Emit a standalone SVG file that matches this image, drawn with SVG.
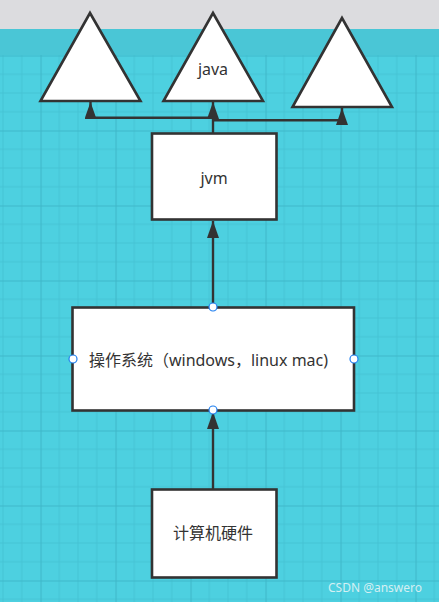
<svg xmlns="http://www.w3.org/2000/svg" width="439" height="602" viewBox="0 0 439 602">
<defs>
<pattern id="grid" patternUnits="userSpaceOnUse" x="40.5" y="55.5" width="75" height="75">
<path d="M18.75 0V75M37.5 0V75M56.25 0V75M0 18.75H75M0 37.5H75M0 56.25H75" stroke="#45c3d4" stroke-width="1" fill="none"/>
<path d="M0.5 0V75M0 0.5H75" stroke="#3fb8c9" stroke-width="1.2" fill="none"/>
</pattern>
<marker id="ah" viewBox="0 0 17 12" refX="17" refY="6" markerWidth="17" markerHeight="12" markerUnits="userSpaceOnUse" orient="auto">
<path d="M0 0L17 6L0 12Z" fill="#333"/>
</marker>
</defs>
<style>
.shape{fill:#fff;stroke:#333;stroke-width:2.6;stroke-linejoin:miter}
.lbl{font-family:"Noto Sans","Noto Sans CJK SC",sans-serif;font-size:16px;fill:#333;text-anchor:middle;dominant-baseline:central}
.conn{fill:none;stroke:#333;stroke-width:2.4}
.handle{fill:#fff;stroke:#1f7ff0;stroke-width:1.2}
</style>
<rect x="0" y="0" width="439" height="602" fill="#4dd0e0"/>
<rect x="0" y="55" width="439" height="547" fill="url(#grid)"/>
<rect x="0" y="0" width="439" height="29" fill="#dcdcdf"/>
<rect x="0" y="29" width="439" height="26" fill="#4ac6d6"/>
<g id="connectors">
<path class="conn" d="M213 307V221" marker-end="url(#ah)"/>
<path class="conn" d="M213 489V412" marker-end="url(#ah)"/>
<path class="conn" d="M213 133V102" marker-end="url(#ah)"/>
<path class="conn" d="M213 117.7H90.5V102" marker-end="url(#ah)"/>
<path class="conn" d="M213 120.3H342V108" marker-end="url(#ah)"/>
</g>
<g id="tri1"><path class="shape" d="M90 13L40.5 101H140.5Z"/></g>
<g id="tri2"><path class="shape" d="M213 13L163.5 101H263Z"/><text class="lbl" x="213" y="69">java</text></g>
<g id="tri3"><path class="shape" d="M342 18L292.5 107H392Z"/></g>
<g id="jvm"><rect class="shape" x="152" y="133.5" width="124.5" height="86"/><text class="lbl" x="214" y="178">jvm</text></g>
<g id="os"><rect class="shape" x="72.5" y="307.5" width="281.5" height="103"/><text class="lbl" x="208.5" y="360">操作系统（windows，linux mac)</text>
<circle class="handle" cx="213" cy="307" r="4"/><circle class="handle" cx="73" cy="359" r="4"/><circle class="handle" cx="354" cy="359" r="4"/><circle class="handle" cx="213" cy="410" r="4"/></g>
<g id="hw"><rect class="shape" x="152" y="489.5" width="124.5" height="88"/><text class="lbl" x="213" y="533">计算机硬件</text></g>
<text x="375" y="587" font-family="Noto Sans,sans-serif" font-size="12" fill="#eef6f7" fill-opacity="0.85" text-anchor="middle" dominant-baseline="central">CSDN @answero</text>
</svg>
